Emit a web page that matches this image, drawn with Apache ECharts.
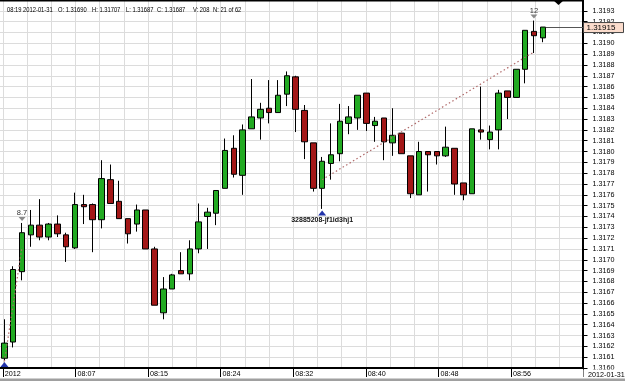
<!DOCTYPE html>
<html>
<head>
<meta charset="utf-8">
<script src="https://cdn.jsdelivr.net/npm/echarts@6/dist/echarts.min.js"></script>
<style>
  html, body { margin: 0; padding: 0; background: #fff; }
  #chart { width: 625px; height: 381px; }
</style>
</head>
<body>
<div id="chart"></div>
<script>
// 1 minute bars, 2012-01-31 (last 4 slots are empty room on the right)
const tradeDate = '2012-01-31';
const times = [
  '07:59', '08:00', '08:01', '08:02', '08:03', '08:04', '08:05', '08:06', '08:07', '08:08',
  '08:09', '08:10', '08:11', '08:12', '08:13', '08:14', '08:15', '08:16', '08:17', '08:18',
  '08:19', '08:20', '08:21', '08:22', '08:23', '08:24', '08:25', '08:26', '08:27', '08:28',
  '08:29', '08:30', '08:31', '08:32', '08:33', '08:34', '08:35', '08:36', '08:37', '08:38',
  '08:39', '08:40', '08:41', '08:42', '08:43', '08:44', '08:45', '08:46', '08:47', '08:48',
  '08:49', '08:50', '08:51', '08:52', '08:53', '08:54', '08:55', '08:56', '08:57', '08:58',
  '08:59', '09:00', '09:01', '09:02', '09:03', '09:04'
];
const opens = [
  1.31609, 1.31624, 1.31689, 1.31723, 1.31732, 1.31721, 1.31733, 1.31723, 1.31711, 1.31751,
  1.31751, 1.31737, 1.31774, 1.31754, 1.31738, 1.31733, 1.31746, 1.31710, 1.31651, 1.31673,
  1.31690, 1.31687, 1.31710, 1.31740, 1.31743, 1.31766, 1.31803, 1.31778, 1.31821, 1.31831,
  1.31840, 1.31836, 1.31853, 1.31869, 1.31838, 1.31808, 1.31766, 1.31789, 1.31798, 1.31826,
  1.31831, 1.31854, 1.31824, 1.31831, 1.31808, 1.31817, 1.31796, 1.31760, 1.31800, 1.31800,
  1.31796, 1.31803, 1.31771, 1.31761, 1.31820, 1.31811, 1.31820, 1.31856, 1.31850, 1.31876,
  1.31911, 1.31905
];
const closes = [
  1.31623, 1.31691, 1.31725, 1.31732, 1.31721, 1.31733, 1.31724, 1.31712, 1.31751, 1.31749,
  1.31737, 1.31775, 1.31752, 1.31738, 1.31724, 1.31746, 1.31710, 1.31658, 1.31673, 1.31686,
  1.31687, 1.31710, 1.31735, 1.31744, 1.31764, 1.31801, 1.31779, 1.31820, 1.31832, 1.31839,
  1.31836, 1.31852, 1.31870, 1.31839, 1.31809, 1.31766, 1.31791, 1.31797, 1.31828, 1.31832,
  1.31852, 1.31826, 1.31828, 1.31809, 1.31815, 1.31798, 1.31761, 1.31800, 1.31797, 1.31796,
  1.31804, 1.31770, 1.31760, 1.31821, 1.31818, 1.31818, 1.31854, 1.31850, 1.31876, 1.31912,
  1.31907, 1.31915
];
const lows = [
  1.31607, 1.31619, 1.31681, 1.31712, 1.31718, 1.31718, 1.31721, 1.31698, 1.31710, 1.31733,
  1.31707, 1.31729, 1.31752, 1.31738, 1.31715, 1.31726, 1.31710, 1.31658, 1.31645, 1.31673,
  1.31687, 1.31681, 1.31706, 1.31710, 1.31732, 1.31766, 1.31776, 1.31760, 1.31821, 1.31811,
  1.31826, 1.31836, 1.31842, 1.31818, 1.31793, 1.31763, 1.31747, 1.31774, 1.31791, 1.31816,
  1.31820, 1.31819, 1.31809, 1.31792, 1.31796, 1.31798, 1.31757, 1.31760, 1.31763, 1.31788,
  1.31795, 1.31760, 1.31755, 1.31761, 1.31811, 1.31802, 1.31802, 1.31830, 1.31850, 1.31863,
  1.31891, 1.31901
];
const highs = [
  1.31645, 1.31694, 1.31734, 1.31746, 1.31756, 1.31734, 1.31741, 1.31725, 1.31762, 1.31760,
  1.31752, 1.31792, 1.31788, 1.31773, 1.31738, 1.31751, 1.31746, 1.31712, 1.31684, 1.31687,
  1.31707, 1.31718, 1.31752, 1.31748, 1.31764, 1.31812, 1.31815, 1.31825, 1.31867, 1.31845,
  1.31866, 1.31866, 1.31874, 1.31870, 1.31843, 1.31808, 1.31795, 1.31826, 1.31844, 1.31842,
  1.31852, 1.31854, 1.31832, 1.31831, 1.31840, 1.31817, 1.31796, 1.31809, 1.31800, 1.31800,
  1.31823, 1.31803, 1.31771, 1.31821, 1.31860, 1.31824, 1.31857, 1.31856, 1.31876, 1.31912,
  1.31921, 1.31915
];

// price scale
const priceMin = 1.3160;
const priceMax = 1.3194;
const priceStep = 0.0001;

// time labels, one on every third vertical grid line
const timeTicks = ['2012', '08:07', '08:15', '08:24', '08:32', '08:40', '08:48', '08:56'];
const timeGridLines = 24;

// bar shown in the header
const hoverBar = 20;
const hoverVolume = 208;

// annotations
const noteBars = [2, 60];
const noteTexts = ['8.7', '12'];
const signalBars = [0, 36];
const signalTexts = ['', '32885208-jf1id3hj1'];
const trendFrom = [[36, 1.31774], [0, 1.31606]];
const trendTo = [[60, 1.31892], [2, 1.31712]];

const FONT = 'Liberation Sans, Arial, sans-serif';
const GREEN = '#22aa22';
const RED = '#a31717';

const chart = echarts.init(document.getElementById('chart'));

const candles = opens.map((o, i) => [o, closes[i], lows[i], highs[i]]);

const marks = [];
noteBars.forEach((b, i) => {
  marks.push({
    coord: [b, highs[b]],
    symbol: 'path://M0,0 L10,0 L5,6 Z',
    symbolSize: [7, 4],
    symbolOffset: [0, -4],
    itemStyle: { color: '#8a8a8a' },
    label: {
      show: true, position: 'top', distance: 0, formatter: noteTexts[i],
      fontSize: 7.5, color: '#333', fontFamily: FONT
    }
  });
});
signalBars.forEach((b, i) => {
  marks.push({
    coord: [b, lows[b]],
    symbol: 'triangle',
    symbolSize: [8, 5],
    symbolOffset: [0, 4],
    itemStyle: { color: '#2233aa' },
    label: {
      show: signalTexts[i] !== '', position: 'bottom', distance: 1, formatter: signalTexts[i],
      fontSize: 7, fontWeight: 'bold', color: '#111', fontFamily: FONT
    }
  });
});

const gridLine = { color: '#dcdcdc', width: 1 };

const option = {
  animation: false,
  backgroundColor: '#fff',
  grid: [
    { left: -1, right: 42.5, top: -3, bottom: 13 },
    { left: 2.8, right: 41.4, top: -3, bottom: 13 }
  ],
  xAxis: [
    {
      type: 'category',
      gridIndex: 0,
      data: times,
      boundaryGap: true,
      axisLine: { show: true, lineStyle: { color: '#000', width: 2 } },
      axisTick: { show: false },
      axisLabel: { show: false },
      splitLine: { show: false }
    },
    {
      type: 'value',
      gridIndex: 1,
      min: 0,
      max: timeGridLines,
      interval: 3,
      axisLine: { show: false },
      axisTick: { show: true, length: 9, lineStyle: { color: '#000', width: 1 } },
      minorTick: { show: false, splitNumber: 3 },
      splitLine: { show: true, lineStyle: gridLine },
      minorSplitLine: { show: true, lineStyle: gridLine },
      axisLabel: {
        show: true,
        align: 'left',
        margin: 3,
        padding: [0, 0, 0, 2],
        fontSize: 7.2,
        color: '#000',
        fontFamily: FONT,
        formatter: v => timeTicks[v / 3] || ''
      }
    }
  ],
  yAxis: [
    {
      type: 'value',
      gridIndex: 0,
      position: 'right',
      min: priceMin,
      max: priceMax,
      interval: priceStep,
      axisLine: { show: true, lineStyle: { color: '#000', width: 2 } },
      axisTick: { show: true, length: 5, lineStyle: { color: '#000' } },
      splitLine: { show: true, lineStyle: gridLine },
      axisLabel: {
        margin: 10,
        fontSize: 7.2,
        color: '#000',
        fontFamily: FONT,
        showMaxLabel: false,
        formatter: v => v.toFixed(4)
      }
    },
    { type: 'value', gridIndex: 1, show: false, min: 0, max: 1 }
  ],
  series: [
    {
      type: 'candlestick',
      xAxisIndex: 0,
      yAxisIndex: 0,
      data: candles,
      barWidth: 6,
      itemStyle: {
        color: GREEN,
        color0: RED,
        borderColor: '#000',
        borderColor0: '#000',
        borderWidth: 1
      },
      markPoint: { silent: true, animation: false, data: marks },
      markLine: {
        silent: true,
        animation: false,
        symbol: ['none', 'none'],
        label: { show: false },
        lineStyle: { color: '#b06a6a', type: [1.5, 2.5], width: 1.2 },
        data: trendFrom.map((p, i) => [{ coord: p }, { coord: trendTo[i] }])
      }
    }
  ]
};

chart.setOption(option);

// last price line and box, placed through the chart's own scale
const last = closes.length - 1;
const lp = chart.convertToPixel({ seriesIndex: 0 }, [last, closes[last]]);
const axisX = 582.5;

const header = [
  [7, times[hoverBar] + ' ' + tradeDate],
  [58, 'O: ' + opens[hoverBar].toFixed(5)],
  [92, 'H: ' + highs[hoverBar].toFixed(5)],
  [126, 'L: ' + lows[hoverBar].toFixed(5)],
  [157, 'C: ' + closes[hoverBar].toFixed(5)],
  [193, 'V: ' + hoverVolume],
  [213, 'N: ' + (hoverBar + 1) + ' of ' + opens.length]
];

// header font is narrow in the original, so squeeze it a little
const graphics = header.map(([x, t]) => ({
  type: 'text', x: x, y: 10, z: 100, scaleX: 0.84,
  style: { text: t, fontSize: 6.9, fontFamily: FONT, fill: '#000', verticalAlign: 'middle' }
}));

graphics.push(
  // top frame line and the small marker at top right
  { type: 'rect', z: 100, shape: { x: 0, y: 0, width: axisX, height: 1.5 }, style: { fill: '#000' } },
  { type: 'polygon', z: 100, shape: { points: [[553, 0], [564, 0], [558.5, 5]] }, style: { fill: '#000' } },
  // bottom strip
  { type: 'rect', z: 100, shape: { x: axisX + 1, y: 369.5, width: 50, height: 9 }, style: { fill: '#fff' } },
  { type: 'rect', z: 100, shape: { x: 0, y: 378.5, width: 625, height: 3 }, style: { fill: '#a0a0a0' } },
  {
    type: 'text', x: 588, y: 375, z: 101,
    style: { text: tradeDate, fontSize: 7.2, fontFamily: FONT, fill: '#000', verticalAlign: 'middle' }
  },
  // last price
  {
    type: 'line', z: 100,
    shape: { x1: lp[0] + 3, y1: Math.round(lp[1]) + 0.5, x2: axisX + 1, y2: Math.round(lp[1]) + 0.5 },
    style: { stroke: '#555', lineWidth: 1 }
  },
  {
    type: 'rect', z: 100,
    shape: { x: axisX + 1, y: lp[1] - 4.5, width: 40, height: 10 },
    style: { fill: '#fbdccc', stroke: '#444', lineWidth: 1 }
  },
  {
    type: 'text', x: axisX + 4, y: lp[1] + 0.5, z: 101,
    style: { text: closes[last].toFixed(5), fontSize: 8, fontFamily: FONT, fill: '#000', verticalAlign: 'middle' }
  }
);

chart.setOption({ graphic: graphics });
</script>
</body>
</html>
